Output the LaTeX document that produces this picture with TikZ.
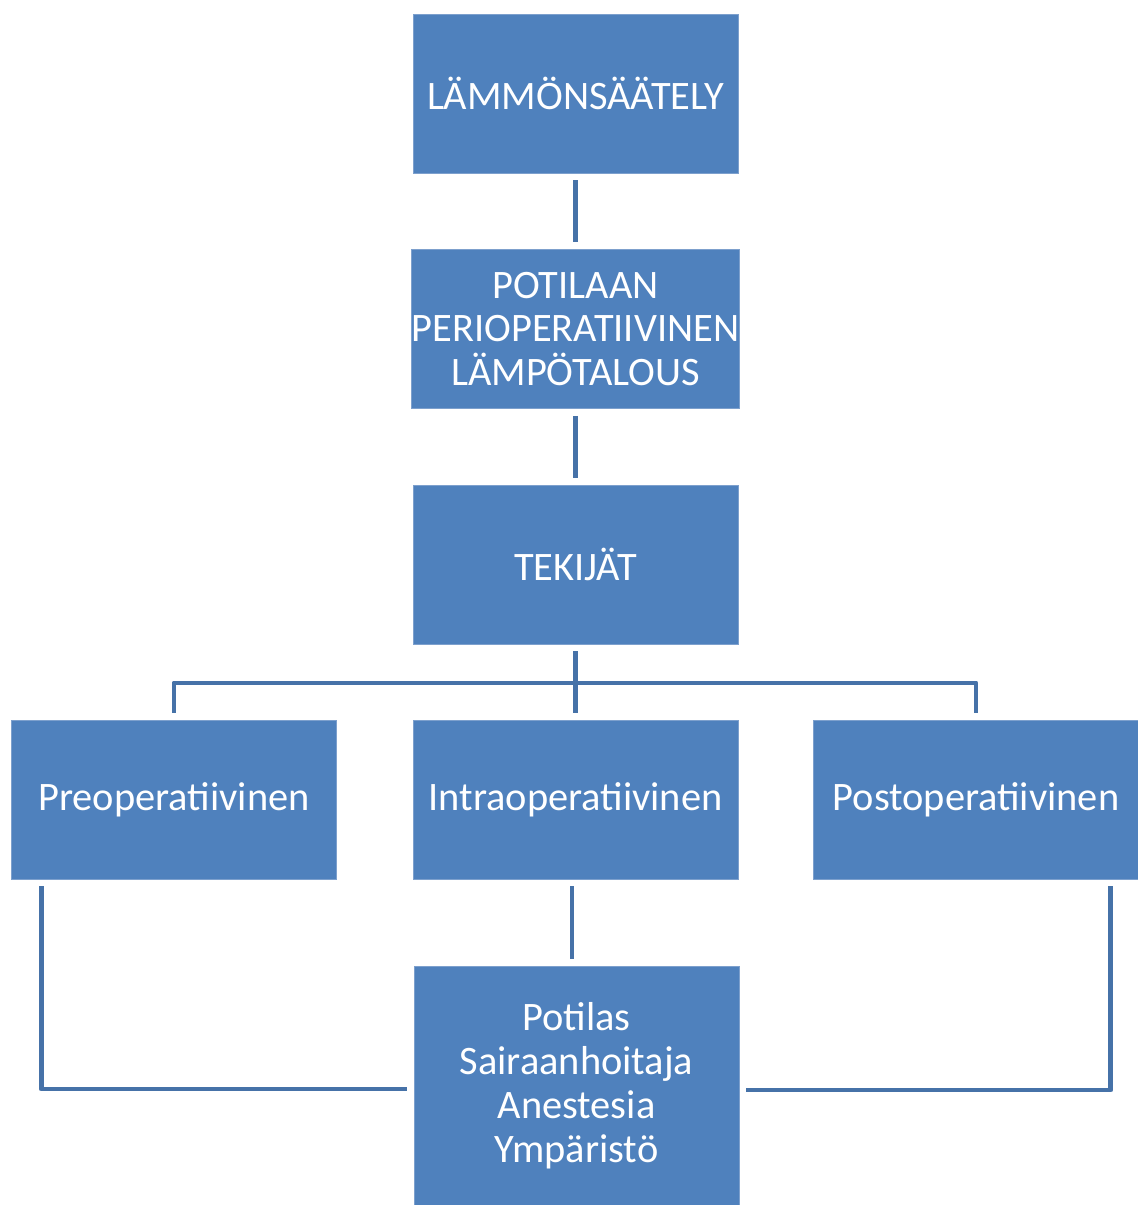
\documentclass[tikz,border=0pt]{standalone}
\usepackage{fontspec}
\setmainfont{Carlito}
\usepackage{tikz}
\definecolor{bblue}  {RGB}{79,129,189}
\definecolor{eblue}  {RGB}{125,160,205}
\definecolor{lblue}  {RGB}{70,114,168}
\tikzset{
    block/.style={rectangle, fill=bblue, draw=eblue, line width=0.5pt,
             text=white, align=center, inner sep=0pt,
             font=\fontsize{23}{25}\selectfont,
             minimum width=6.5cm, minimum height=3.18cm},
    link/.style={draw=lblue, line width=2.8pt, line join=round,
             shorten <=0.14cm, shorten >=0.14cm}
  }
\begin{document}
\begin{tikzpicture}[x=0.02cm, y=-0.02cm]
 \useasboundingbox (0,0) rectangle (1138,1205);
 %Top row
     \node[block] (lampo) at (575.5,93.5) {LÄMMÖNSÄÄTELY};
     \node[block] (talous) at (575.5,329) {POTILAAN\\PERIOPERATIIVINEN\\LÄMPÖTALOUS};
     \node[block] (tekijat) at (575.5,564.5) {TEKIJÄT};
 %Phases
     \node[block] (pre) at (174,799.5) {Preoperatiivinen};
     \node[block] (intra) at (575.5,799.5) {Intraoperatiivinen};
     \node[block] (post) at (976,799.5) {Postoperatiivinen};
 %Bottom
     \node[block, minimum height=4.78cm] (potilas) at (576.5,1085.5) {Potilas\\Sairaanhoitaja\\Anestesia\\Ympäristö};
 % links
     \coordinate (fork) at (575.5,683);
     \draw[link] (lampo) -- (talous);
     \draw[link] (talous) -- (tekijat);
     \draw[link] (tekijat) -- (intra);
     \draw[link] (pre.north) |- (fork) -| (post.north);
     \draw[link] ([xshift=-0.07cm]intra.south) -- ([xshift=-0.07cm]intra.south |- potilas.north);
     \draw[link] ([xshift=0.6cm]pre.south west) |- ([yshift=-0.07cm]potilas.west);
     \draw[link] ([xshift=-0.56cm]post.south east) |- ([yshift=-0.09cm]potilas.east);
\end{tikzpicture}
\end{document}
